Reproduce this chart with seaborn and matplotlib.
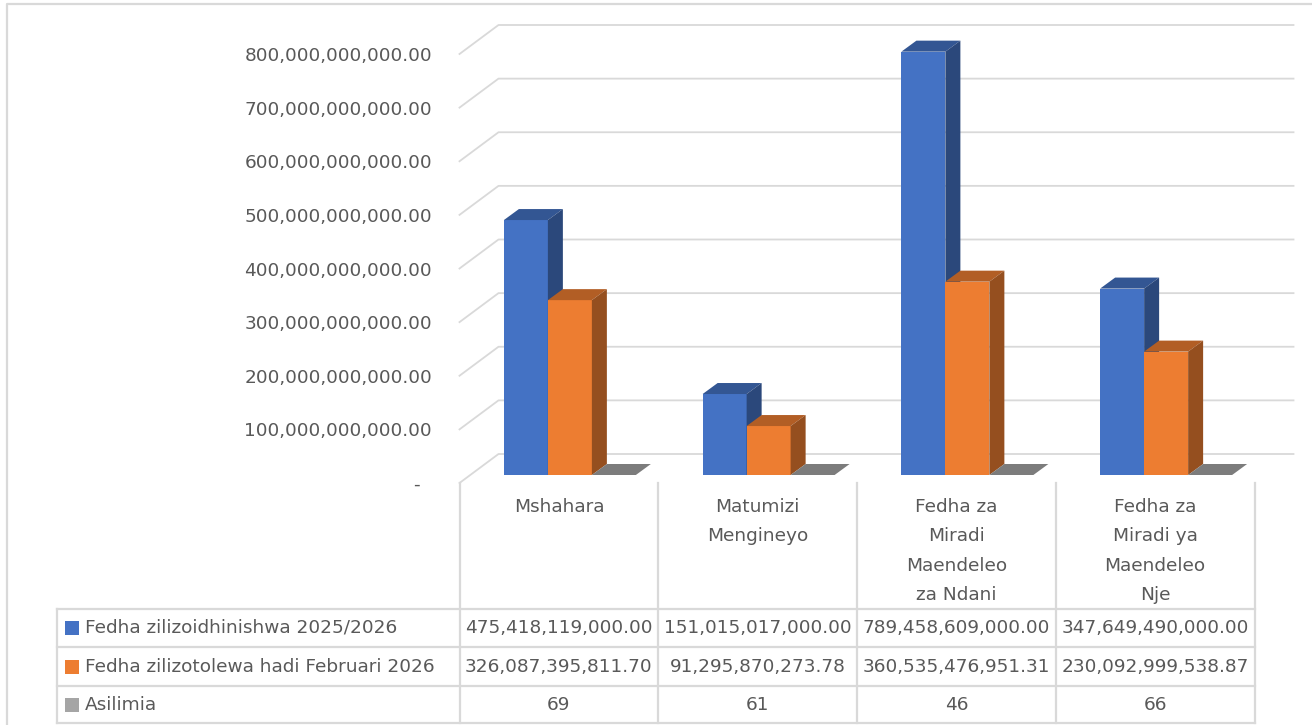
import numpy as np
import pandas as pd
import matplotlib
matplotlib.use('Agg')
import matplotlib.pyplot as plt
from matplotlib.patches import Polygon, Rectangle
import seaborn as sns

# ---- data -------------------------------------------------------------------
categories = ['Mshahara', 'Matumizi Mengineyo',
              'Fedha za Miradi Maendeleo za Ndani',
              'Fedha za Miradi ya Maendeleo Nje']
category_lines = [['Mshahara'],
                  ['Matumizi', 'Mengineyo'],
                  ['Fedha za', 'Miradi', 'Maendeleo', 'za Ndani'],
                  ['Fedha za', 'Miradi ya', 'Maendeleo', 'Nje']]
series = ['Fedha zilizoidhinishwa 2025/2026',
          'Fedha zilizotolewa hadi Februari 2026',
          'Asilimia']
approved = [475418119000.00, 151015017000.00, 789458609000.00, 347649490000.00]
released = [326087395811.70, 91295870273.78, 360535476951.31, 230092999538.87]
percent = [69, 61, 46, 66]
colors = ['#4472C4', '#ED7D31', '#A5A5A5']
y_ticks = np.arange(0, 800e9 + 1, 100e9)

df = pd.DataFrame({
    'category': categories * 3,
    'series': [s for s in series for _ in categories],
    'value': approved + released + percent,
})

# ---- layout (pixels) --------------------------------------------------------
W, H = 1312, 725
PX_LEFT, PX_RIGHT = 459.5, 1254.5
PX_ZERO, PX_TOP = 483, 54
col_w = (PX_RIGHT - PX_LEFT) / len(categories)
text_col = '#595959'
grid_col = '#D9D9D9'
fs = 13.3


def shade(c, f):
    r, g, b = matplotlib.colors.to_rgb(c)
    return (r * f, g * f, b * f)


fig = plt.figure(figsize=(W / 100, H / 100), dpi=100)
ax = fig.add_axes([PX_LEFT / W, (H - PX_ZERO) / H,
                   (PX_RIGHT - PX_LEFT) / W, (PX_ZERO - PX_TOP) / H])
ax.set_facecolor('none')

sns.barplot(data=df, x='category', y='value', hue='series', palette=colors,
            width=0.664, saturation=1, errorbar=None, legend=False, ax=ax)

ax.set_xlim(-0.5, len(categories) - 0.5)
ax.set_ylim(0, 800e9)
ux = len(categories) / (PX_RIGHT - PX_LEFT)
uy = 800e9 / (PX_ZERO - PX_TOP)

# back wall / floor gridlines (pseudo 3d)
fdx, fdy = 39 * ux, 29 * uy
for v in y_ticks:
    ax.plot([-0.5, -0.5 + fdx, len(categories) - 0.5 + fdx], [v, v + fdy, v + fdy],
            color=grid_col, lw=1.3, zorder=1, clip_on=False)

# extrude bars
bx, by = 11 * ux, 8 * uy
dx, dy = 15 * ux, 11 * uy
bars = sorted(ax.patches, key=lambda p: p.get_x())
for i, p in enumerate(bars):
    x0, w, h = p.get_x(), p.get_width(), p.get_height()
    c = p.get_facecolor()
    z = 2 + i * 0.01
    p.set_xy((x0 + bx, by))
    p.set_linewidth(0)
    p.set_zorder(z)
    p.set_clip_on(False)
    xl, xr, yt = x0 + bx, x0 + bx + w, h + by
    ax.add_patch(Polygon([(xl, yt), (xr, yt), (xr + dx, yt + dy), (xl + dx, yt + dy)],
                         closed=True, facecolor=shade(c, 0.75), lw=0, zorder=z,
                         clip_on=False))
    ax.add_patch(Polygon([(xr, by), (xr + dx, by + dy), (xr + dx, yt + dy), (xr, yt)],
                         closed=True, facecolor=shade(c, 0.63), lw=0, zorder=z,
                         clip_on=False))

ax.set_yticks(y_ticks)
ax.set_yticklabels(['-  ' if v == 0 else f'{v:,.2f}' for v in y_ticks])
ax.tick_params(axis='y', length=0, pad=19.8, labelsize=fs, labelcolor=text_col)
ax.set_xticks([])
ax.set_xlabel('')
ax.set_ylabel('')
for s in ax.spines.values():
    s.set_visible(False)

# ---- data table -------------------------------------------------------------
ov = fig.add_axes([0, 0, 1, 1])
ov.set_xlim(0, W)
ov.set_ylim(H, 0)
ov.axis('off')

ov.plot([7, 7, W], [H, 4, 4], color=grid_col, lw=1.6)

col_edges = [PX_LEFT + i * col_w for i in range(len(categories) + 1)]
row_edges = [609, 647, 686, 723]
leg_left = 57
for xe in col_edges:
    ov.plot([xe, xe], [PX_ZERO, row_edges[-1]], color=grid_col, lw=1.6)
ov.plot([leg_left, leg_left], [row_edges[0], row_edges[-1]], color=grid_col, lw=1.6)
for ye in row_edges:
    ov.plot([leg_left, PX_RIGHT], [ye, ye], color=grid_col, lw=1.6)

for j, lines in enumerate(category_lines):
    cx = col_edges[j] + col_w / 2
    for k, t in enumerate(lines):
        ov.text(cx, 507 + k * 29.3, t, ha='center', va='center',
                fontsize=fs, color=text_col)

rows = [[f'{v:,.2f}' for v in approved],
        [f'{v:,.2f}' for v in released],
        [str(v) for v in percent]]
for r, (name, vals) in enumerate(zip(series, rows)):
    cy = (row_edges[r] + row_edges[r + 1]) / 2
    ov.add_patch(Rectangle((65, cy - 7), 14, 14, facecolor=colors[r], lw=0))
    ov.text(85, cy, name, ha='left', va='center', fontsize=fs, color=text_col)
    for j, t in enumerate(vals):
        ov.text(col_edges[j] + col_w / 2, cy, t, ha='center', va='center',
                fontsize=fs, color=text_col)

fig.savefig('out.png', dpi=100)
